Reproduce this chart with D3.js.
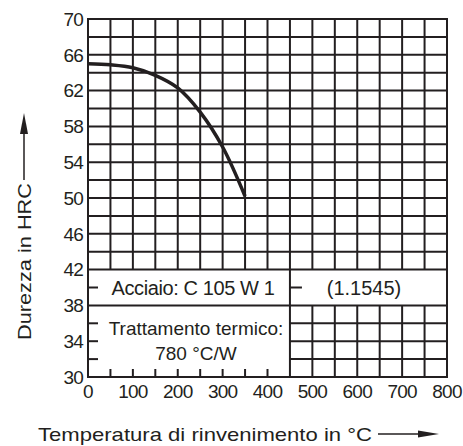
<!DOCTYPE html>
<html>
<head>
<meta charset="utf-8">
<script src="https://cdn.jsdelivr.net/npm/d3@7"></script>
<style>
  html, body { margin: 0; padding: 0; background: #fff; }
  svg { display: block; }
  text { font-family: "Liberation Sans", Arial, sans-serif; fill: #231f20; }
</style>
</head>
<body>
<div id="chart"></div>
<script>
// hardness curve
const temps = [0, 50, 100, 150, 200, 250, 300, 350];
const hrc = [65, 64.88, 64.55, 63.7, 62.3, 59.6, 55.7, 50.2];

const xTicks = [0, 100, 200, 300, 400, 500, 600, 700, 800];
const yTicks = [30, 34, 38, 42, 46, 50, 54, 58, 62, 66, 70];

const steelLabel = "Acciaio: C 105 W 1";
const steelNumber = "(1.1545)";
const treatLabel = ["Trattamento termico:", "780 °C/W"];
const xTitle = "Temperatura di rinvenimento in °C";
const yTitle = "Durezza in HRC";

const W = 463, H = 446;
const ink = "#231f20";

const svg = d3.select("#chart").append("svg")
    .attr("width", W)
    .attr("height", H);

const x = d3.scaleLinear().domain([0, 800]).range([88, 447]);
const y = d3.scaleLinear().domain([30, 70]).range([377, 19]);

const g = svg.append("g").attr("stroke", ink).attr("stroke-width", 2).attr("fill", "none");

// vertical grid lines, every 50 degC
d3.range(50, 800, 50).forEach(t => {
    if (t < 450) {
        g.append("line").attr("x1", x(t)).attr("x2", x(t)).attr("y1", y(70)).attr("y2", y(42));
        g.append("line").attr("x1", x(t)).attr("x2", x(t)).attr("y1", y(30)).attr("y2", y(30) - 8);
    } else if (t == 450) {
        g.append("line").attr("x1", x(t)).attr("x2", x(t)).attr("y1", y(70)).attr("y2", y(30));
    } else {
        g.append("line").attr("x1", x(t)).attr("x2", x(t)).attr("y1", y(70)).attr("y2", y(42));
        g.append("line").attr("x1", x(t)).attr("x2", x(t)).attr("y1", y(38)).attr("y2", y(30));
    }
});

// horizontal grid lines, every 2 HRC
d3.range(32, 70, 2).forEach(v => {
    if (v >= 42 || v == 38) {
        g.append("line").attr("x1", x(0)).attr("x2", x(800)).attr("y1", y(v)).attr("y2", y(v));
    } else if (v == 40) {
        g.append("line").attr("x1", x(0)).attr("x2", x(0) + 10).attr("y1", y(v)).attr("y2", y(v));
        g.append("line").attr("x1", x(450)).attr("x2", x(450) + 12).attr("y1", y(v)).attr("y2", y(v));
    } else {
        g.append("line").attr("x1", x(0)).attr("x2", x(0) + 10).attr("y1", y(v)).attr("y2", y(v));
        g.append("line").attr("x1", x(450)).attr("x2", x(800)).attr("y1", y(v)).attr("y2", y(v));
    }
});

// frame
g.append("rect")
    .attr("x", x(0)).attr("y", y(70))
    .attr("width", x(800) - x(0)).attr("height", y(30) - y(70));

// curve
const line = d3.line()
    .x(d => x(d[0]))
    .y(d => y(d[1]))
    .curve(d3.curveCatmullRom);

svg.append("path")
    .datum(d3.zip(temps, hrc))
    .attr("d", line)
    .attr("fill", "none")
    .attr("stroke", ink)
    .attr("stroke-width", 3.5);

// tick labels
svg.append("g").selectAll("text")
    .data(yTicks)
    .join("text")
    .attr("x", 83)
    .attr("y", d => y(d))
    .attr("dy", "0.36em")
    .attr("text-anchor", "end")
    .attr("font-size", 19)
    .attr("letter-spacing", -0.8)
    .text(d => d);

svg.append("g").selectAll("text")
    .data(xTicks)
    .join("text")
    .attr("x", d => x(d))
    .attr("y", 398)
    .attr("text-anchor", "middle")
    .attr("font-size", 19)
    .attr("letter-spacing", -0.8)
    .text(d => d);

// text boxes
svg.append("text")
    .attr("x", (x(0) + x(450)) / 2 + 4)
    .attr("y", 295)
    .attr("text-anchor", "middle")
    .attr("font-size", 20)
    .attr("letter-spacing", -0.4)
    .text(steelLabel);

svg.append("text")
    .attr("x", 364)
    .attr("y", 295)
    .attr("text-anchor", "middle")
    .attr("font-size", 20)
    .text(steelNumber);

svg.append("g").selectAll("text")
    .data(treatLabel)
    .join("text")
    .attr("x", 196)
    .attr("y", (d, i) => 335 + i * 25)
    .attr("text-anchor", "middle")
    .attr("font-size", 19)
    .text(d => d);

// axis titles with arrows
svg.append("text")
    .attr("x", 38)
    .attr("y", 441)
    .attr("font-size", 19)
    .attr("textLength", 334)
    .attr("lengthAdjust", "spacingAndGlyphs")
    .text(xTitle);

svg.append("line")
    .attr("x1", 378).attr("x2", 425).attr("y1", 434).attr("y2", 434)
    .attr("stroke", ink).attr("stroke-width", 1.5);
svg.append("path")
    .attr("d", d3.line()([[418, 430.5], [439, 434], [418, 437.5]]))
    .attr("fill", ink);

svg.append("text")
    .attr("transform", "translate(31,340) rotate(-90)")
    .attr("font-size", 19)
    .attr("textLength", 157)
    .attr("lengthAdjust", "spacingAndGlyphs")
    .text(yTitle);

svg.append("line")
    .attr("x1", 24).attr("x2", 24).attr("y1", 180).attr("y2", 128)
    .attr("stroke", ink).attr("stroke-width", 1.5);
svg.append("path")
    .attr("d", d3.line()([[20, 134], [24, 113], [28, 134]]))
    .attr("fill", ink);
</script>
</body>
</html>
